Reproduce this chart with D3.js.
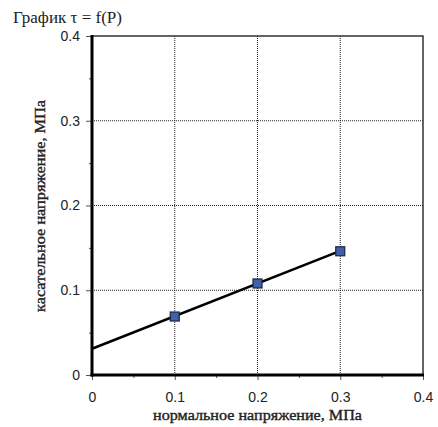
<!DOCTYPE html>
<html><head><meta charset="utf-8">
<script src="https://cdn.jsdelivr.net/npm/d3@7"></script>
<style>body{margin:0;background:#fff}</style>
</head><body>
<svg id="c" width="438" height="427"></svg>
<script>
const pressure = [0.1, 0.2, 0.3];
const shear = [0.069, 0.108, 0.146];
const trendP = [0, 0.3];
const trendT = [0.031, 0.1465];
const xTicks = [0, 0.1, 0.2, 0.3, 0.4];
const yTicks = [0, 0.1, 0.2, 0.3, 0.4];
const minorTicks = [0.05, 0.15, 0.25, 0.35];
const title = "График τ = f(P)";
const xTitle = "нормальное напряжение, МПа";
const yTitle = "касательное напряжение, МПа";

const SERIF = "'Liberation Serif', 'Times New Roman', serif";
const SANS = "'Liberation Sans', Arial, sans-serif";
const svg = d3.select("#c");
const L = 92, R = 423, T = 36, B = 375;
const x = d3.scaleLinear().domain([0, 0.4]).range([L, R]);
const y = d3.scaleLinear().domain([0, 0.4]).range([B, T]);
const fmt = d => d === 0 ? "0" : d3.format(".1f")(d);

// grid
const g = svg.append("g");
g.selectAll("line.gx").data(xTicks.filter(d => d > 0 && d < 0.4)).join("line")
  .attr("x1", d => x(d)).attr("x2", d => x(d)).attr("y1", T).attr("y2", B)
  .attr("stroke", "#222").attr("stroke-width", 1).attr("stroke-dasharray", "1,1");
g.selectAll("line.gy").data(yTicks.filter(d => d > 0 && d < 0.4)).join("line")
  .attr("y1", d => y(d)).attr("y2", d => y(d)).attr("x1", L).attr("x2", R)
  .attr("stroke", "#222").attr("stroke-width", 1).attr("stroke-dasharray", "1,1");

// frame top/right
svg.append("path").attr("d", `M${L},${T}H${R}V${B}`).attr("fill", "none")
  .attr("stroke", "#333").attr("stroke-width", 1.5);

// axes
const xAxis = d3.axisBottom(x).tickValues(xTicks).tickFormat(fmt).tickSize(5).tickPadding(12);
const yAxis = d3.axisLeft(y).tickValues(yTicks).tickFormat(fmt).tickSize(6).tickPadding(6);
const gx = svg.append("g").attr("transform", `translate(0,${B})`).call(xAxis);
const gy = svg.append("g").attr("transform", `translate(${L},0)`).call(yAxis);
const gxm = svg.append("g").attr("transform", `translate(0,${B})`)
  .call(d3.axisBottom(x).tickValues(minorTicks).tickFormat("").tickSize(3));
const gym = svg.append("g").attr("transform", `translate(${L},0)`)
  .call(d3.axisLeft(y).tickValues(minorTicks).tickFormat("").tickSize(3));
[gx, gy, gxm, gym].forEach(a => {
  a.select(".domain").remove();
  a.selectAll(".tick line").attr("stroke", "#555").attr("stroke-width", 1);
  a.selectAll("text").style("font-family", SANS)
    .attr("font-size", 14).attr("fill", "#222");
});
// main axis lines
svg.append("line").attr("x1", L).attr("x2", L).attr("y1", T - 1).attr("y2", B + 1.5)
  .attr("stroke", "#000").attr("stroke-width", 3);
svg.append("line").attr("x1", L - 1.5).attr("x2", R + 1).attr("y1", B).attr("y2", B)
  .attr("stroke", "#000").attr("stroke-width", 3);

// trend line
const line = d3.line().x(d => x(d[0])).y(d => y(d[1]));
svg.append("path").datum(trendP.map((p, i) => [p, trendT[i]]))
  .attr("d", line).attr("fill", "none").attr("stroke", "#000").attr("stroke-width", 2.5);

// markers
const s = 9;
svg.selectAll("rect.m").data(pressure.map((p, i) => [p, shear[i]])).join("rect")
  .attr("x", d => x(d[0]) - s / 2).attr("y", d => y(d[1]) - s / 2)
  .attr("width", s).attr("height", s)
  .attr("fill", "#3d62a8").attr("stroke", "#1b2540").attr("stroke-width", 1.2);

// titles
svg.append("text").attr("x", 13).attr("y", 23).text(title)
  .attr("textLength", 109).attr("lengthAdjust", "spacingAndGlyphs")
  .style("font-family", SERIF).attr("font-size", 16).attr("fill", "#222");
svg.append("text").attr("x", 257.5).attr("y", 420).attr("text-anchor", "middle")
  .attr("textLength", 209).attr("lengthAdjust", "spacingAndGlyphs")
  .style("font-family", SERIF)
  .attr("stroke", "#222").attr("stroke-width", 0.35)
  .text(xTitle).attr("font-size", 14).attr("fill", "#222");
svg.append("text").attr("transform", `translate(44.5,206) rotate(-90)`)
  .attr("text-anchor", "middle").attr("textLength", 212).attr("lengthAdjust", "spacingAndGlyphs")
  .style("font-family", SERIF)
  .attr("stroke", "#222").attr("stroke-width", 0.35)
  .text(yTitle).attr("font-size", 14).attr("fill", "#222");
</script>
</body></html>
